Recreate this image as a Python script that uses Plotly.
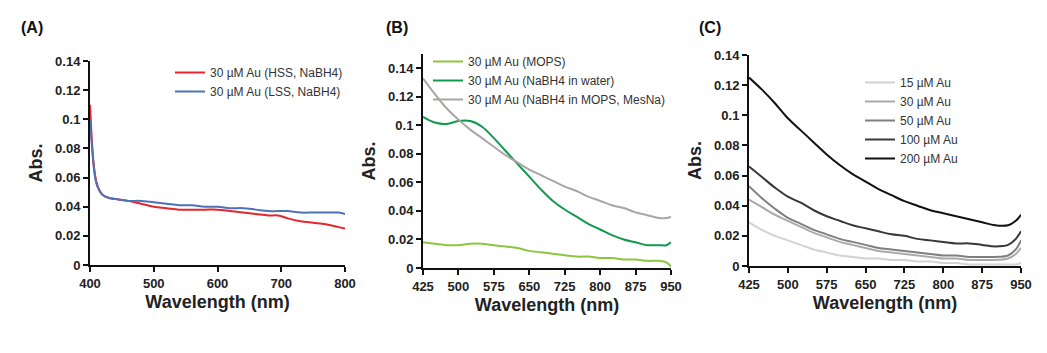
import plotly.graph_objects as go

# ---------------- Data ----------------
# Panel A
a_wl = [400, 403, 406, 410, 415, 420, 430, 445, 460, 480, 500, 520, 540, 560, 580, 600, 620, 640, 660, 680, 695, 710, 730, 750, 770, 790, 800]
a_hss = [0.110, 0.085, 0.068, 0.057, 0.051, 0.048, 0.046, 0.045, 0.044, 0.042, 0.040, 0.039, 0.038, 0.038, 0.038, 0.038, 0.037, 0.036, 0.035, 0.034, 0.034, 0.032, 0.030, 0.029, 0.028, 0.026, 0.025]
a_lss = [0.100, 0.082, 0.067, 0.056, 0.051, 0.048, 0.046, 0.045, 0.044, 0.044, 0.043, 0.042, 0.041, 0.041, 0.040, 0.040, 0.039, 0.039, 0.038, 0.037, 0.037, 0.037, 0.036, 0.036, 0.036, 0.036, 0.035]

# Panel B
b_wl = [425, 450, 475, 500, 525, 550, 575, 600, 625, 650, 675, 700, 725, 750, 775, 800, 825, 850, 875, 900, 925, 940, 950]
b_mops = [0.018, 0.017, 0.016, 0.016, 0.017, 0.017, 0.016, 0.015, 0.014, 0.012, 0.011, 0.010, 0.009, 0.008, 0.008, 0.007, 0.007, 0.006, 0.006, 0.005, 0.005, 0.004, 0.001]
b_water = [0.106, 0.102, 0.101, 0.103, 0.103, 0.099, 0.091, 0.082, 0.073, 0.064, 0.055, 0.047, 0.041, 0.036, 0.031, 0.027, 0.023, 0.020, 0.018, 0.016, 0.016, 0.016, 0.018]
b_mesna = [0.133, 0.122, 0.112, 0.104, 0.097, 0.091, 0.085, 0.079, 0.074, 0.069, 0.065, 0.061, 0.057, 0.054, 0.050, 0.047, 0.044, 0.042, 0.039, 0.037, 0.035, 0.035, 0.036]

# Panel C
c_wl = [425, 450, 475, 500, 525, 550, 575, 600, 625, 650, 675, 700, 725, 750, 775, 800, 825, 850, 875, 900, 925, 940, 950]
c_15 = [0.029, 0.024, 0.020, 0.017, 0.014, 0.011, 0.009, 0.007, 0.006, 0.005, 0.005, 0.004, 0.004, 0.003, 0.003, 0.002, 0.002, 0.001, 0.001, 0.001, 0.001, 0.001, 0.002]
c_30 = [0.044, 0.039, 0.034, 0.030, 0.026, 0.022, 0.019, 0.016, 0.014, 0.012, 0.010, 0.009, 0.008, 0.007, 0.006, 0.005, 0.005, 0.004, 0.004, 0.004, 0.005, 0.008, 0.012]
c_50 = [0.053, 0.045, 0.038, 0.032, 0.028, 0.024, 0.021, 0.018, 0.016, 0.014, 0.012, 0.011, 0.010, 0.009, 0.008, 0.007, 0.007, 0.006, 0.006, 0.006, 0.007, 0.011, 0.017]
c_100 = [0.066, 0.059, 0.052, 0.046, 0.042, 0.037, 0.033, 0.030, 0.027, 0.025, 0.023, 0.021, 0.020, 0.018, 0.017, 0.016, 0.015, 0.015, 0.014, 0.013, 0.014, 0.018, 0.023]
c_200 = [0.125, 0.117, 0.108, 0.098, 0.090, 0.082, 0.074, 0.067, 0.061, 0.056, 0.051, 0.047, 0.043, 0.040, 0.037, 0.035, 0.033, 0.031, 0.029, 0.027, 0.027, 0.030, 0.034]

y_ticks = [0, 0.02, 0.04, 0.06, 0.08, 0.1, 0.12, 0.14]
y_ticktext = ["0", "0.02", "0.04", "0.06", "0.08", "0.1", "0.12", "0.14"]
a_xticks = [400, 500, 600, 700, 800]
bc_xticks = [425, 500, 575, 650, 725, 800, 875, 950]

# ---------------- Figure ----------------
W, H = 1047, 353
def px_x(p): return p / W
def px_y(p): return 1 - p / H

fig = go.Figure()
LW = 2

fig.add_trace(go.Scatter(x=a_wl, y=a_hss, mode="lines", name="30 \u00b5M Au (HSS, NaBH4)",
                         line=dict(color="#e5262a", width=LW, shape="spline"), xaxis="x", yaxis="y", legend="legend"))
fig.add_trace(go.Scatter(x=a_wl, y=a_lss, mode="lines", name="30 \u00b5M Au (LSS, NaBH4)",
                         line=dict(color="#4d72b8", width=LW, shape="spline"), xaxis="x", yaxis="y", legend="legend"))

fig.add_trace(go.Scatter(x=b_wl, y=b_mops, mode="lines", name="30 \u00b5M Au (MOPS)",
                         line=dict(color="#8cc63e", width=LW, shape="spline"), xaxis="x2", yaxis="y2", legend="legend2"))
fig.add_trace(go.Scatter(x=b_wl, y=b_water, mode="lines", name="30 \u00b5M Au (NaBH4 in water)",
                         line=dict(color="#119a4b", width=LW, shape="spline"), xaxis="x2", yaxis="y2", legend="legend2"))
fig.add_trace(go.Scatter(x=b_wl, y=b_mesna, mode="lines", name="30 \u00b5M Au (NaBH4 in MOPS, MesNa)",
                         line=dict(color="#aaa5a5", width=LW, shape="spline"), xaxis="x2", yaxis="y2", legend="legend2"))

c_series = [(c_15, "15 \u00b5M Au", "#d2d2d2"), (c_30, "30 \u00b5M Au", "#aaaaaa"),
            (c_50, "50 \u00b5M Au", "#7f7f7f"), (c_100, "100 \u00b5M Au", "#383838"),
            (c_200, "200 \u00b5M Au", "#111111")]
for vals, nm, col in c_series:
    fig.add_trace(go.Scatter(x=c_wl, y=vals, mode="lines", name=nm,
                             line=dict(color=col, width=LW, shape="spline"), xaxis="x3", yaxis="y3", legend="legend3"))

FONT = "Liberation Sans, Arial, sans-serif"
tickfont = dict(family=FONT, size=13, color="#222", weight="bold")
titlefont = dict(family=FONT, size=18, color="#222", weight="bold")

def xaxis(domain, rng, ticks, anchor):
    return dict(domain=domain, range=rng, tickvals=ticks, ticks="outside", ticklen=5, tickwidth=2,
                tickcolor="#111", showline=True, linecolor="#111", linewidth=2, showgrid=False,
                zeroline=False, tickfont=tickfont, anchor=anchor, automargin=False,
                title=dict(text="Wavelength (nm)", font=titlefont, standoff=6))

def yaxis(domain, rng, anchor):
    return dict(domain=domain, range=rng, tickvals=y_ticks, ticktext=y_ticktext, ticks="outside",
                ticklen=5, tickwidth=2, tickcolor="#111", showline=True, linecolor="#111", linewidth=2,
                showgrid=False, zeroline=False, tickfont=tickfont, anchor=anchor, automargin=False,
                title=dict(text="Abs.", font=titlefont, standoff=8))

legfont = dict(family=FONT, size=12, color="#333")

fig.update_layout(
    width=W, height=H, margin=dict(l=0, r=0, t=0, b=0, autoexpand=False),
    paper_bgcolor="white", plot_bgcolor="white",
    xaxis=xaxis([px_x(90), px_x(345)], [400, 800], a_xticks, "y"),
    yaxis=yaxis([px_y(265), px_y(61)], [0, 0.14], "x"),
    xaxis2=xaxis([px_x(423), px_x(671)], [425, 950], bc_xticks, "y2"),
    yaxis2=yaxis([px_y(268), px_y(54)], [0, 0.15], "x2"),
    xaxis3=xaxis([px_x(749), px_x(1021)], [425, 950], bc_xticks, "y3"),
    yaxis3=yaxis([px_y(266), px_y(55)], [0, 0.14], "x3"),
    legend=dict(x=px_x(170), y=px_y(58), xanchor="left", yanchor="top", font=legfont,
                bgcolor="rgba(0,0,0,0)", tracegroupgap=0, itemwidth=30),
    legend2=dict(x=px_x(428), y=px_y(47), xanchor="left", yanchor="top", font=legfont,
                 bgcolor="rgba(0,0,0,0)", tracegroupgap=0, itemwidth=30),
    legend3=dict(x=px_x(860), y=px_y(68), xanchor="left", yanchor="top", font=legfont,
                 bgcolor="rgba(0,0,0,0)", tracegroupgap=0, itemwidth=30),
    showlegend=True,
)

panel_font = dict(family=FONT, size=16, color="#111", weight="bold")
for lbl, xp in [("(A)", 19), ("(B)", 384), ("(C)", 697)]:
    fig.add_annotation(text=lbl, x=px_x(xp), y=px_y(27), xref="paper", yref="paper",
                       xanchor="left", yanchor="middle", showarrow=False, font=panel_font)

fig.write_html("out.html")
